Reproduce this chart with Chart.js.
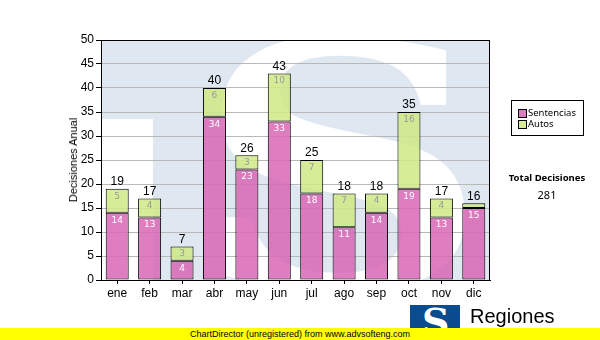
<!DOCTYPE html>
<html>
<head>
<meta charset="utf-8">
<script src="https://cdn.jsdelivr.net/npm/chart.js@4.4.1/dist/chart.umd.min.js"></script>
<style>
body { margin: 0; background: #fff; }
#wrap { position: relative; width: 600px; height: 340px; overflow: hidden; font-family: "Liberation Sans", Arial, sans-serif; }
#chart { position: absolute; left: 0; top: 0; }
.ytitle { position: absolute; left: 73px; top: 160px; transform: translate(-50%, -50%) rotate(-90deg); font-size: 11px; color: #000; white-space: nowrap; }
.legend { position: absolute; left: 511px; top: 100px; width: 71px; height: 34px; border: 1px solid #000; background: #fff; font: 9.5px "Noto Sans", sans-serif; color: #000; }
.legend div { position: absolute; left: 16px; line-height: 11px; white-space: nowrap; }
.legend span { position: absolute; left: -10px; top: 2px; width: 7px; height: 7px; border: 1px solid #000; }
.total { position: absolute; left: 497px; width: 100px; text-align: center; font: 9.5px "Noto Sans", sans-serif; color: #000; }
.footer { position: absolute; left: 0; top: 328px; width: 600px; height: 12px; background: #ffff00; }
.footer div { position: absolute; left: 190px; top: 0; font-size: 9px; line-height: 12px; color: #000; white-space: nowrap; }
.logo { position: absolute; left: 410px; top: 305px; width: 50px; height: 30px; background: #0b4c8f; overflow: hidden; }
.logo b { position: absolute; left: 12px; top: -6px; font: bold 38px "DejaVu Serif", serif; color: #fff; }
.brand { position: absolute; left: 470px; top: 305px; font-size: 20px; color: #000; }
</style>
</head>
<body>
<div id="wrap">
  <canvas id="chart" width="600" height="340"></canvas>
  <div class="ytitle">Decisiones Anual</div>
  <div class="legend">
    <div style="top:6px"><span style="background:#dc7cc0"></span>Sentencias</div>
    <div style="top:17px"><span style="background:#d4ec96"></span>Autos</div>
  </div>
  <div class="total" style="top:171px;font-weight:bold">Total Decisiones</div>
  <div class="total" style="top:187px;font-size:11px">281</div>
  <div class="logo"><b>S</b></div>
  <div class="brand">Regiones</div>
  <div class="footer"><div>ChartDirector (unregistered) from www.advsofteng.com</div></div>
</div>
<script>
const months = ['ene', 'feb', 'mar', 'abr', 'may', 'jun', 'jul', 'ago', 'sep', 'oct', 'nov', 'dic'];
const sentencias = [14, 13, 4, 34, 23, 33, 18, 11, 14, 19, 13, 15];
const autos = [5, 4, 3, 6, 3, 10, 7, 7, 4, 16, 4, 1];
const yMax = 50;
const yStep = 5;

// pale watermark behind the plot
const bgPlugin = {
    id: 'bg',
    beforeDraw(chart) {
        const { ctx, chartArea: a } = chart;
        ctx.save();
        ctx.beginPath();
        ctx.rect(a.left, a.top, a.right - a.left, a.bottom - a.top);
        ctx.clip();
        ctx.fillStyle = '#dfe8f1';
        ctx.fillRect(a.left, a.top, a.right - a.left, a.bottom - a.top);
        ctx.fillStyle = '#fff';
        ctx.fillRect(a.left, 119, 52, a.bottom - 119);
        ctx.font = 'bold 340px "DejaVu Serif"';
        ctx.textAlign = 'center';
        ctx.translate(342, 288);
        ctx.scale(1.2, 1);
        ctx.fillText('S', 0, 0);
        ctx.restore();
    }
};

// values inside segments and totals on top
const labelPlugin = {
    id: 'labels',
    afterDatasetsDraw(chart) {
        const ctx = chart.ctx;
        ctx.save();
        ctx.textAlign = 'center';
        ctx.textBaseline = 'top';
        ctx.font = '9px "DejaVu Sans"';
        chart.data.datasets.forEach((ds, i) => {
            chart.getDatasetMeta(i).data.forEach((bar, j) => {
                if (Math.abs(bar.base - bar.y) < 10) return;
                ctx.fillStyle = i === 0 ? '#fff' : '#9a9a9a';
                ctx.fillText(ds.data[j], bar.x, bar.y + 3);
            });
        });
        ctx.fillStyle = '#000';
        ctx.font = '12px "Liberation Sans"';
        ctx.textBaseline = 'bottom';
        chart.getDatasetMeta(1).data.forEach((bar, j) => {
            ctx.fillText(sentencias[j] + autos[j], bar.x, bar.y - 1);
        });
        ctx.restore();
    },
    afterDraw(chart) {
        const { ctx, chartArea: a } = chart;
        ctx.save();
        ctx.strokeStyle = '#000';
        ctx.lineWidth = 1;
        ctx.strokeRect(a.left + 0.5, a.top + 0.5, a.right - a.left - 1, a.bottom - a.top);
        ctx.restore();
    }
};

new Chart(document.getElementById('chart').getContext('2d'), {
    type: 'bar',
    data: {
        labels: months,
        datasets: [{
            label: 'Sentencias',
            data: sentencias,
            backgroundColor: 'rgba(216,102,181,0.85)',
            borderColor: '#000',
            borderWidth: 1,
            borderSkipped: false
        }, {
            label: 'Autos',
            data: autos,
            backgroundColor: 'rgba(207,233,132,0.85)',
            borderColor: '#000',
            borderWidth: 1,
            borderSkipped: false
        }]
    },
    options: {
        responsive: false,
        animation: false,
        events: [],
        datasets: { bar: { barPercentage: 0.71, categoryPercentage: 1 } },
        layout: { padding: { left: 0, right: 110, top: 40, bottom: 40 } },
        plugins: { legend: { display: false }, tooltip: { enabled: false } },
        scales: {
            x: {
                stacked: true,
                grid: { drawOnChartArea: false, drawTicks: true, tickLength: 4, tickColor: '#000', offset: false },
                border: { color: '#000' },
                ticks: { color: '#000', font: { family: 'Liberation Sans', size: 12 }, padding: 2 },
                afterFit(s) { s.height = 20; }
            },
            y: {
                stacked: true,
                min: 0,
                max: yMax,
                grid: { color: '#b8b8b8', tickColor: '#000', tickLength: 5 },
                border: { color: '#000' },
                ticks: { stepSize: yStep, color: '#000', font: { family: 'Liberation Sans', size: 12 }, padding: 2 },
                afterFit(s) { s.width = 101; }
            }
        }
    },
    plugins: [bgPlugin, labelPlugin]
});
</script>
</body>
</html>
